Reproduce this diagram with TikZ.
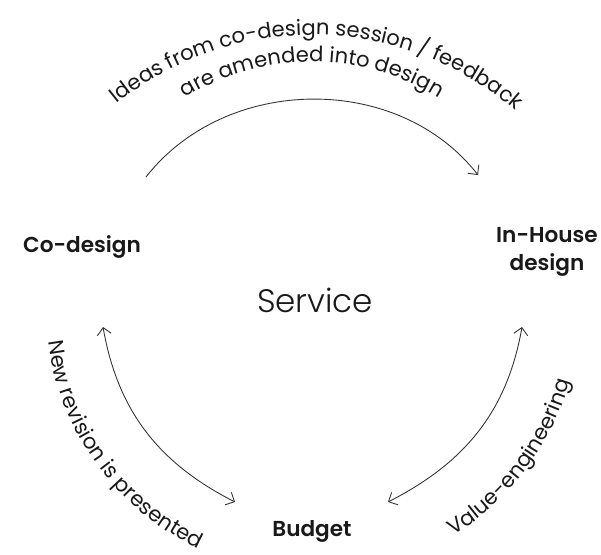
\documentclass[tikz,border=0pt]{standalone}
\usepackage{fontspec}
\setmainfont{Poppins}
\newfontfamily\thinfont{Poppins Light}
\newfontfamily\semifont{Poppins SemiBold}
\usetikzlibrary{arrows.meta, decorations.text}

\tikzset{
  stagelabel/.style={font=\semifont\fontsize{12.3}{16}\selectfont, text=black!90, align=center, inner sep=0pt},
  loopline/.style={draw=black!80, line width=0.5pt, >={Straight Barb[length=1.4mm, width=2.8mm]}},
  arctext/.style={decorate, decoration={text along path, text align=center,
      text={|\fontsize{12}{14}\selectfont\color{black!90}|#1}}}
}

\begin{document}
\begin{tikzpicture}[x=0.02cm, y=0.02cm]
    \useasboundingbox (0,0) rectangle (601,554);

    \coordinate (hub) at (312,246);
    \coordinate (ringA) at (312,208);
    \coordinate (ringB) at (312,249);

    \node[stagelabel, anchor=base] (codesign) at (82,301) {Co-design};
    \node[stagelabel] (inhouse) at (547,302) {In-House\\design};
    \node[stagelabel, anchor=base] (budget) at (312,18) {Budget};
    \node[font=\thinfont\fontsize{18.5}{22}\selectfont, text=black!90, anchor=base, inner sep=0pt] (service) at (315,241) {Service};

    \coordinate (topS) at (146,377);
    \coordinate (topE) at (478,379);
    \coordinate (leftS) at (103,227);
    \coordinate (leftE) at (235,52);
    \coordinate (rightS) at (522,227);
    \coordinate (rightE) at (388,52);

    \draw[loopline, ->] (topS) to[out=52, in=128] (topE);
    \draw[loopline, <->] (leftS) to[out=-80, in=153] (leftE);
    \draw[loopline, <->] (rightS) to[out=-100, in=27] (rightE);

    \path[arctext={Ideas from co-design session / feedback}] (ringA) ++(134:311) arc[start angle=134, end angle=44, radius=311];
    \path[arctext={are amended into design}] (ringB) ++(126:243) arc[start angle=126, end angle=54, radius=243];
    \path[arctext={New revision is presented}] (hub) ++(186:266) arc[start angle=186, end angle=246, radius=266];
    \path[arctext={Value-engineering}] (hub) ++(302:268) arc[start angle=302, end angle=344, radius=268];
\end{tikzpicture}
\end{document}
